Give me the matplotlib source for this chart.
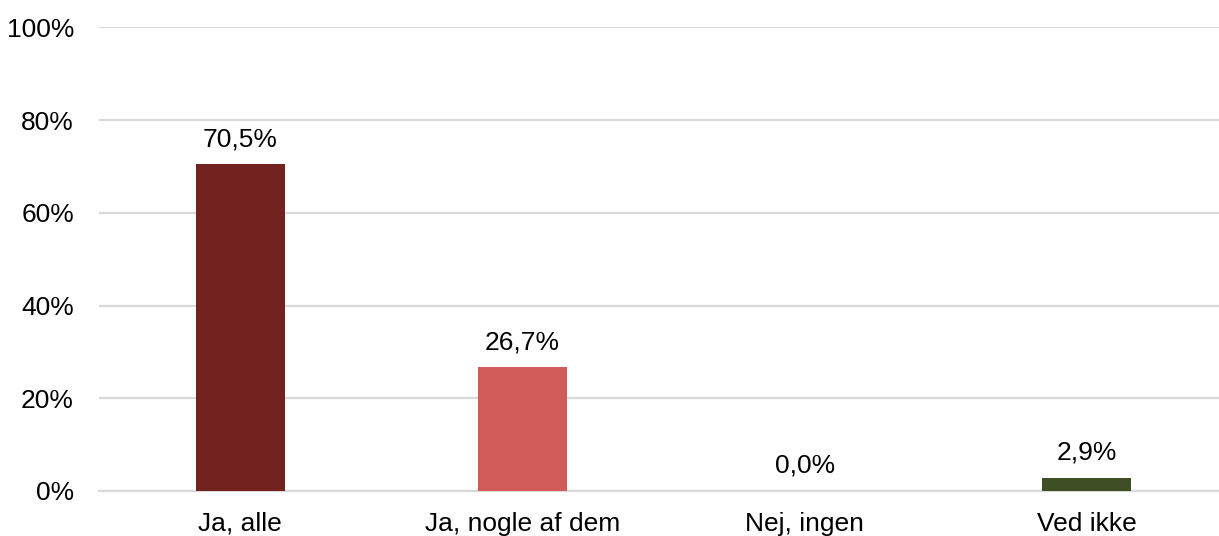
import matplotlib.pyplot as plt
from matplotlib.ticker import FuncFormatter

plt.rcParams['font.family'] = ['Liberation Sans', 'DejaVu Sans']

# survey answers and shares in percent
categories = ['Ja, alle', 'Ja, nogle af dem', 'Nej, ingen', 'Ved ikke']
shares = [70.5, 26.7, 0.0, 2.9]
colors = ['#722320', '#D05B58', '#A9C07F', '#3E4F26']

fig = plt.figure(figsize=(12.19, 5.36), dpi=100)
ax = fig.add_axes([99 / 1219, 45 / 536, 1129 / 1219, 463.5 / 536])

x = range(len(categories))
bars = ax.bar(x, shares, width=0.315, color=colors, zorder=3)

for rect, val in zip(bars, shares):
    label = f'{val:.1f}'.replace('.', ',') + '%'
    ax.annotate(label, (rect.get_x() + rect.get_width() / 2, val),
                xytext=(0, 13), textcoords='offset points',
                ha='center', va='baseline', fontsize=19, color='#000000')

ax.set_xlim(-0.5, 3.5)
ax.set_ylim(0, 100)
ax.set_yticks([0, 20, 40, 60, 80, 100])
ax.yaxis.set_major_formatter(FuncFormatter(lambda v, p: f'{v:.0f}%'))
ax.set_xticks(list(x))
ax.set_xticklabels(categories)

ax.tick_params(axis='y', length=0, pad=18, labelsize=19)
ax.tick_params(axis='x', length=0, pad=15, labelsize=19)
ax.grid(axis='y', color='#D9D9D9', linewidth=1.6, zorder=0)
for side in ['top', 'right', 'left']:
    ax.spines[side].set_visible(False)
ax.spines['bottom'].set_color('#D9D9D9')
ax.spines['bottom'].set_linewidth(1.6)

fig.savefig('out.png', dpi=100)
